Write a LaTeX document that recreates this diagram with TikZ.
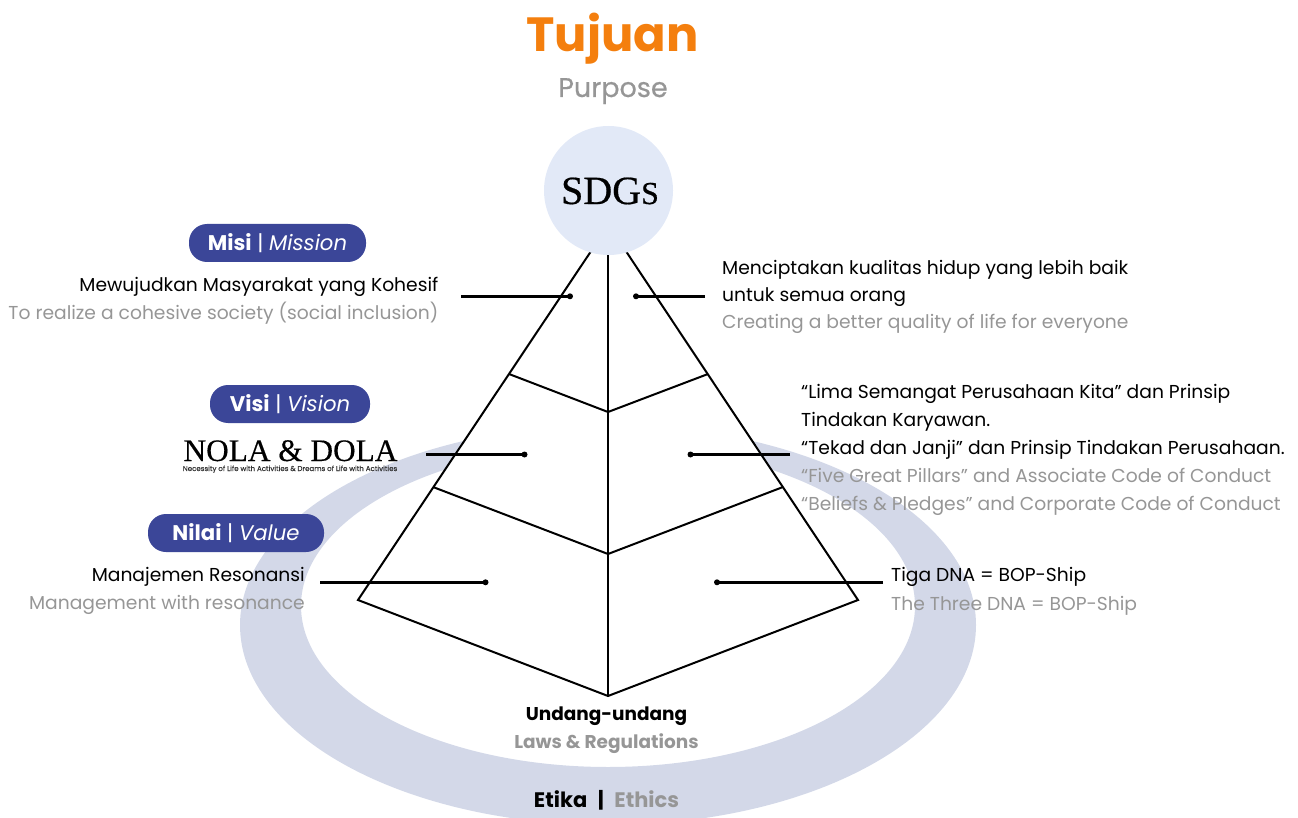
\documentclass[tikz,border=0pt]{standalone}
\usepackage{fontspec}
\setmainfont{Poppins}
\newfontfamily\serifx{Liberation Serif}
\definecolor{ringc}{HTML}{D3D8E8}
\definecolor{pillc}{HTML}{3B4698}
\definecolor{circc}{HTML}{E2E9F7}
\definecolor{orangec}{HTML}{F47F0E}
\definecolor{greyc}{HTML}{969696}
\newcommand{\fs}[1]{\fontsize{#1}{#1}\selectfont}
\tikzset{
  x=1pt,y=-1pt,
  edgeline/.style={draw=black,line width=2pt,line join=miter},
  leader/.style={draw=black,line width=2.9pt},
  leaddot/.style={circle,fill=black,inner sep=0pt,minimum size=6pt},
  pill/.style={rounded corners=18pt,fill=pillc,text=white,inner sep=0pt,minimum height=38pt,font=\fs{21.2}},
  blk/.style={inner sep=0pt,text=black,font=\fs{18.7}},
  gry/.style={inner sep=0pt,text=greyc,font=\fs{18.7}},
}
\begin{document}
\begin{tikzpicture}
\useasboundingbox (0,0) rectangle (1298,818);
\begin{scope}
\clip (0,0) rectangle (1298,818);
\fill[ringc,even odd rule] (608,625) ellipse [x radius=368,y radius=200] (608,606) ellipse [x radius=307,y radius=161];
\end{scope}
% pyramid
\coordinate (apex) at (608.5,225);
\coordinate (bl) at (358,600);
\coordinate (br) at (858,600);
\coordinate (bm) at (608,696);
\coordinate (ml1) at (509,374);
\coordinate (mr1) at (708,374);
\coordinate (mc1) at (608,412);
\coordinate (ml2) at (433,487);
\coordinate (mr2) at (783,487);
\coordinate (mc2) at (608,554);
\coordinate (vt) at (608,225);
\path[edgeline,fill=white] (apex) -- (bl) -- (bm) -- (br) -- cycle;
\draw[edgeline] (vt) -- (bm);
\draw[edgeline] (ml1) -- (mc1) -- (mr1);
\draw[edgeline] (ml2) -- (mc2) -- (mr2);
\node[circle,fill=circc,minimum size=129pt,inner sep=0pt] (sdg) at (608.5,190.5) {};
\node[inner sep=0pt,anchor=base,font=\serifx\fs{40}\addfontfeature{FakeBold=0.5}] (sdgt) at (610,204) {SDG{\fs{32}\addfontfeature{FakeBold=0.5}S}};
% title
\node[inner sep=0pt,anchor=base,text=orangec,font=\fs{48}\bfseries] (title) at (612.5,52) {Tujuan};
\node[inner sep=0pt,anchor=base,text=greyc,font=\fs{27}\addfontfeature{FakeBold=0.6}] (sub) at (613,97) {Purpose};
% pills
\node[pill,minimum width=177pt] (misi) at (277.5,243) {\textbf{Misi} | \textit{Mission}};
\node[pill,minimum width=160pt] (visi) at (290,404) {\textbf{Visi} | \textit{Vision}};
\node[pill,minimum width=176pt] (nilai) at (236,533) {\textbf{Nilai} | \textit{Value}};
% left texts
\node[blk,anchor=base east] (t1a) at (438.5,291.6) {Mewujudkan Masyarakat yang Kohesif};
\node[gry,anchor=base east] (t1b) at (438.5,319.6) {To realize a cohesive society (social inclusion)};
\node[inner sep=0pt,anchor=base,font=\serifx\fs{31.3}\addfontfeature{FakeBold=0.4}] (nola) at (290.5,461) {NOLA \& DOLA};
\node[inner sep=0pt,anchor=base,font=\fs{7.07}\addfontfeature{FakeBold=0.3},text=black!80] (nolas) at (290,471) {Necessity of Life with Activities \& Dreams of Life with Activities};
\node[blk,anchor=base east] (t3a) at (305,581.6) {Manajemen Resonansi};
\node[gry,anchor=base east] (t3b) at (305,609.6) {Management with resonance};
% right texts
\node[blk,anchor=base west] (r1a) at (722,274.6) {Menciptakan kualitas hidup yang lebih baik};
\node[blk,anchor=base west] (r1b) at (722,301.6) {untuk semua orang};
\node[gry,anchor=base west] (r1c) at (722,328.3) {Creating a better quality of life for everyone};
\node[blk,anchor=base west] (r2a) at (801,398.3) {“Lima Semangat Perusahaan Kita” dan Prinsip};
\node[blk,anchor=base west] (r2b) at (801,426.3) {Tindakan Karyawan.};
\node[blk,anchor=base west] (r2c) at (801,454.3) {“Tekad dan Janji” dan Prinsip Tindakan Perusahaan.};
\node[gry,anchor=base west] (r2d) at (801,482.6) {“Five Great Pillars” and Associate Code of Conduct};
\node[gry,anchor=base west] (r2e) at (801,510.6) {“Beliefs \& Pledges” and Corporate Code of Conduct};
\node[blk,anchor=base west] (r3a) at (891,581.6) {Tiga DNA = BOP-Ship};
\node[gry,anchor=base west] (r3b) at (891,610.2) {The Three DNA = BOP-Ship};
% bottom
\node[inner sep=0pt,anchor=base,font=\fs{18.5}\bfseries] (uu) at (606.5,720) {Undang-undang};
\node[inner sep=0pt,anchor=base,text=greyc,font=\fs{18.5}\bfseries] (laws) at (606.5,748) {Laws \& Regulations};
\node[inner sep=0pt,anchor=base,font=\fs{21}\bfseries] (etika) at (606.5,807) {Etika\,\,\,|\,\,\,\textcolor{greyc}{Ethics}};
% leaders
\coordinate (a1) at (461,296.3);
\coordinate (a2) at (705,296.3);
\coordinate (a3) at (426,454.5);
\coordinate (a4) at (790,454.5);
\coordinate (a5) at (320,582.3);
\coordinate (a6) at (883,582.3);
\node[leaddot] (d1) at (570,296.3) {};
\node[leaddot] (d2) at (636,296.3) {};
\node[leaddot] (d3) at (524.5,454.5) {};
\node[leaddot] (d4) at (690.5,454.5) {};
\node[leaddot] (d5) at (485.5,582.3) {};
\node[leaddot] (d6) at (717,582.3) {};
\draw[leader] (a1) -- (d1.center);
\draw[leader] (a2) -- (d2.center);
\draw[leader] (a3) -- (d3.center);
\draw[leader] (a4) -- (d4.center);
\draw[leader] (a5) -- (d5.center);
\draw[leader] (a6) -- (d6.center);
\end{tikzpicture}
\end{document}
